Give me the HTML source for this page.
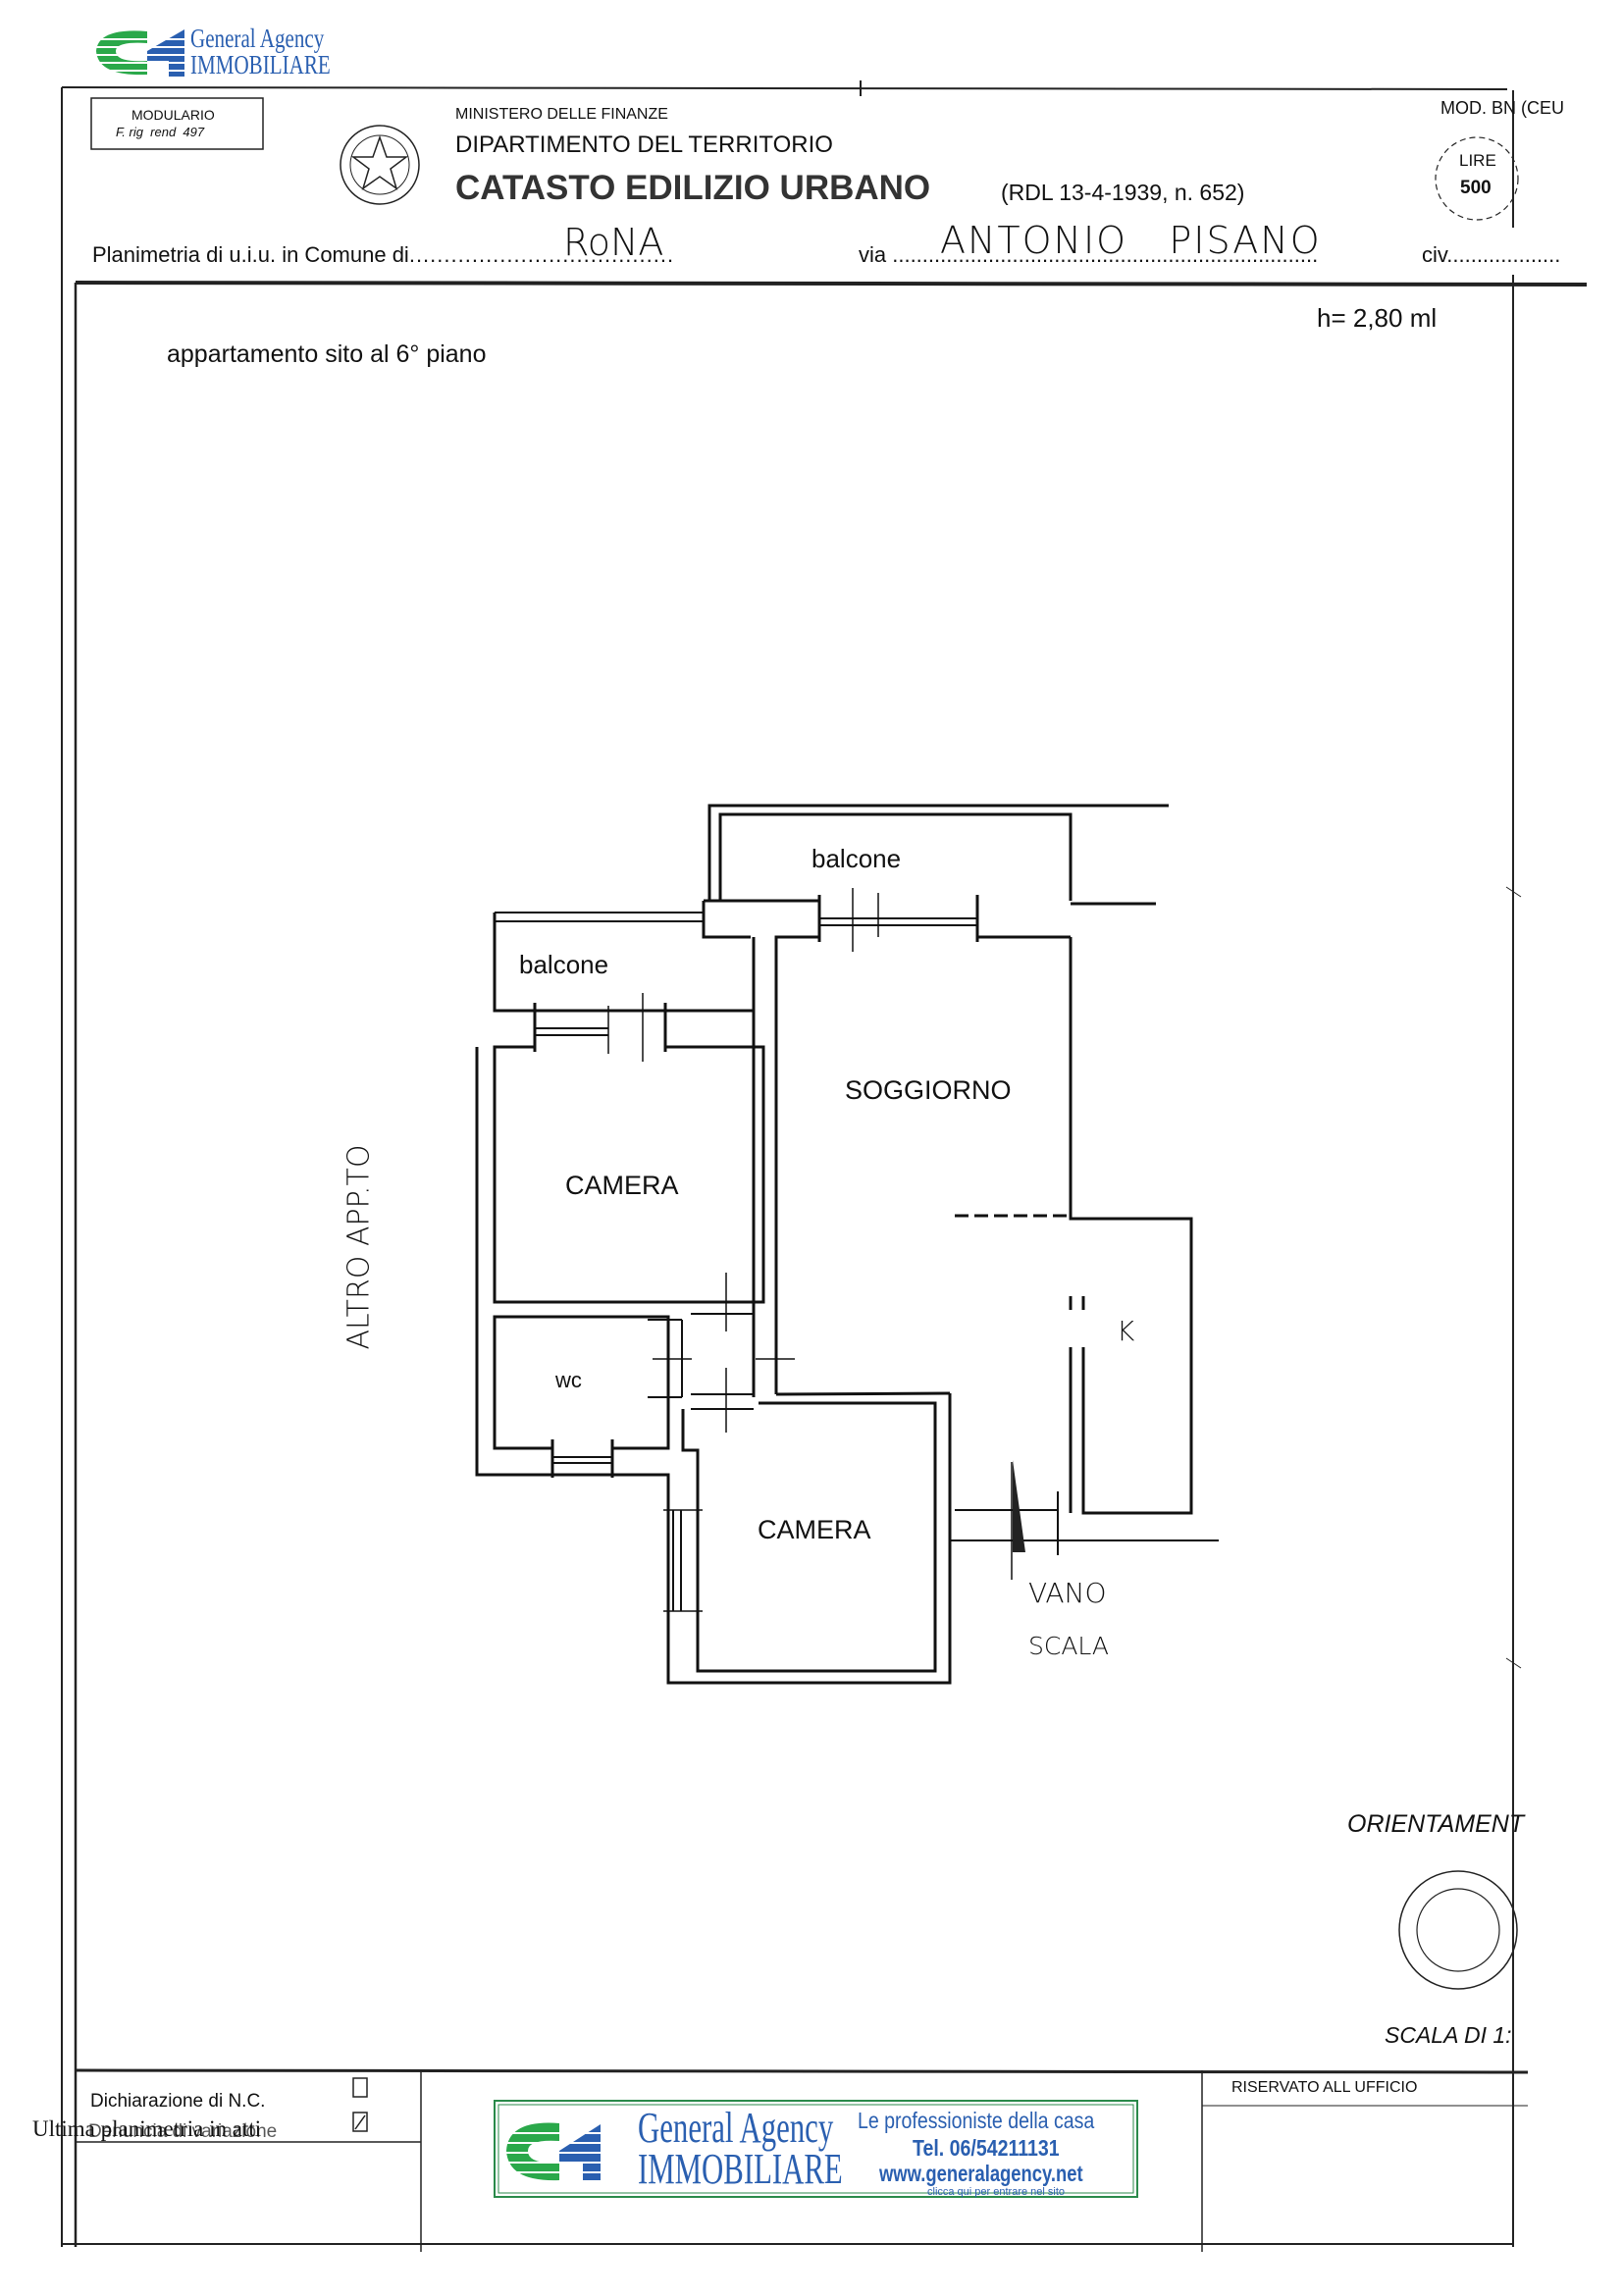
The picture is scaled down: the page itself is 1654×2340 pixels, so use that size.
<!DOCTYPE html>
<html><head><meta charset="utf-8"><style>
html,body{margin:0;padding:0;background:#fff}
body{width:1654px;height:2340px;position:relative;overflow:hidden;font-family:"Liberation Sans",sans-serif;color:#111}
.t{position:absolute;white-space:nowrap;line-height:1}
</style></head><body>
<svg width="1654" height="2340" style="position:absolute;left:0;top:0" xmlns="http://www.w3.org/2000/svg">
<g>
<path d="M150 32 Q100 28 98 52 Q100 78 150 76 L150 62 Q118 64 118 52 Q118 42 150 44 Z" fill="#2aa84a"/>
<path d="M150 52 L188 30 L188 78 L172 78 L172 62 L150 62 Z" fill="#2a5fb0"/>
<g stroke="#fff" stroke-width="2"><line x1="96" y1="40" x2="190" y2="40"/><line x1="96" y1="48" x2="190" y2="48"/><line x1="96" y1="56" x2="190" y2="56"/><line x1="96" y1="64" x2="190" y2="64"/><line x1="96" y1="72" x2="190" y2="72"/></g>
</g>
<g stroke="#222" fill="none" stroke-width="2">
<line x1="63" y1="89" x2="1536" y2="91"/>
<line x1="877" y1="82" x2="877" y2="98"/>
<line x1="63" y1="89" x2="63" y2="2290"/>
<line x1="1542" y1="92" x2="1542" y2="232"/>
<rect x="93" y="100" width="175" height="52" stroke-width="1.5"/>
<circle cx="1505" cy="182" r="42" stroke-width="1.2" stroke-dasharray="6 4"/>
<circle cx="387" cy="168" r="40" stroke-width="1.5"/>
<circle cx="387" cy="168" r="30" stroke-width="1"/>
<polygon points="387,140 394,160 414,160 398,172 404,192 387,180 370,192 376,172 360,160 380,160" stroke-width="1.5"/>
<line x1="77" y1="288" x2="1617" y2="290" stroke-width="4"/>
<line x1="77" y1="288" x2="77" y2="2290" stroke-width="2.5"/>
<line x1="1542" y1="280" x2="1542" y2="2290"/>
<line x1="1535" y1="904" x2="1550" y2="914" stroke-width="1"/>
<line x1="1535" y1="1690" x2="1550" y2="1700" stroke-width="1"/>
<line x1="77" y1="2110" x2="1557" y2="2112" stroke-width="3"/>
<line x1="63" y1="2287" x2="1542" y2="2287" stroke-width="2"/>
<line x1="429" y1="2110" x2="429" y2="2295" stroke-width="1.5"/>
<line x1="1225" y1="2110" x2="1225" y2="2295" stroke-width="1.5"/>
<line x1="77" y1="2183" x2="429" y2="2183" stroke-width="1.5"/>
<line x1="1225" y1="2146" x2="1557" y2="2146" stroke-width="1"/>
<rect x="360" y="2118" width="14" height="19" stroke-width="1.5"/>
<rect x="360" y="2153" width="14" height="19" stroke-width="1.5"/>
<line x1="362" y1="2170" x2="372" y2="2156" stroke-width="1.5"/>
<circle cx="1486" cy="1967" r="60" stroke-width="1.5"/>
<circle cx="1486" cy="1967" r="42" stroke-width="1.2"/>
</g>
<rect x="504" y="2141" width="655" height="98" fill="#fff" stroke="#2a8a4a" stroke-width="2"/>
<rect x="508" y="2145" width="647" height="90" fill="none" stroke="#2a8a4a" stroke-width="1"/>
<g>
<path d="M570 2164 Q518 2160 516 2192 Q518 2224 570 2222 L570 2204 Q538 2206 538 2192 Q538 2180 570 2182 Z" fill="#2aa84a"/>
<path d="M570 2192 L612 2165 L612 2222 L594 2222 L594 2204 L570 2204 Z" fill="#2a5fb0"/>
<g stroke="#fff" stroke-width="2"><line x1="514" y1="2174" x2="614" y2="2174"/><line x1="514" y1="2184" x2="614" y2="2184"/><line x1="514" y1="2194" x2="614" y2="2194"/><line x1="514" y1="2204" x2="614" y2="2204"/><line x1="514" y1="2214" x2="614" y2="2214"/></g>
</g>
<!-- floor plan -->
<g stroke="#111" fill="none" stroke-width="3">
<polyline points="723,918 723,821 1191,821"/>
<polyline points="734,918 734,830 1091,830 1091,918"/>
<line x1="1091" y1="921" x2="1178" y2="921"/>
<line x1="717" y1="918" x2="835" y2="918"/>
<polyline points="717,918 717,955 765,955"/>
<!-- soggiorno -->
<line x1="768" y1="955" x2="768" y2="1424"/>
<polyline points="791,1421 791,955 835,955"/>
<line x1="996" y1="955" x2="1091" y2="955"/>
<line x1="835" y1="936" x2="996" y2="936" stroke-width="2"/>
<line x1="835" y1="943" x2="996" y2="943" stroke-width="2"/>
<line x1="835" y1="912" x2="835" y2="960"/><line x1="996" y1="912" x2="996" y2="960"/>
<line x1="869" y1="905" x2="869" y2="970" stroke-width="1.5"/><line x1="895" y1="910" x2="895" y2="955" stroke-width="1.5"/>
<polyline points="1091,955 1091,1242 1214,1242 1214,1542 1104,1542 1104,1373"/>
<polyline points="1091,1373 1091,1542"/>
<line x1="1091" y1="1321" x2="1091" y2="1335"/>
<line x1="1104" y1="1321" x2="1104" y2="1335"/>
<line x1="973" y1="1239" x2="1091" y2="1239" stroke-dasharray="14 6"/>
<!-- left balcony -->
<line x1="504" y1="930" x2="717" y2="930" stroke-width="2"/>
<line x1="504" y1="939" x2="717" y2="939" stroke-width="2"/>
<polyline points="504,930 504,1030 768,1030"/>
<line x1="545" y1="1048" x2="620" y2="1048" stroke-width="2"/>
<line x1="545" y1="1055" x2="620" y2="1055" stroke-width="2"/>
<line x1="545" y1="1022" x2="545" y2="1072"/><line x1="678" y1="1022" x2="678" y2="1072"/>
<line x1="620" y1="1025" x2="620" y2="1074" stroke-width="1.5"/><line x1="655" y1="1012" x2="655" y2="1082" stroke-width="1.5"/>
<!-- camera 1 -->
<polyline points="486,1067 486,1503 681,1503 681,1715 968,1715 968,1420"/>
<polyline points="545,1067 504,1067 504,1327 778,1327 778,1067 678,1067"/>
<!-- wc -->
<polyline points="563,1476 504,1476 504,1342 681,1342 681,1476 624,1476"/>
<line x1="563" y1="1485" x2="624" y2="1485" stroke-width="2"/>
<line x1="563" y1="1491" x2="624" y2="1491" stroke-width="2"/>
<line x1="563" y1="1467" x2="563" y2="1506"/><line x1="624" y1="1467" x2="624" y2="1506"/>
<!-- corridor -->
<polyline points="695,1345 695,1424" stroke-width="2"/>
<line x1="704" y1="1327" x2="778" y2="1327" stroke-width="2"/>
<line x1="704" y1="1339" x2="768" y2="1339" stroke-width="2"/>
<line x1="704" y1="1421" x2="768" y2="1421" stroke-width="2"/>
<line x1="704" y1="1436" x2="768" y2="1436" stroke-width="2"/>
<line x1="740" y1="1297" x2="740" y2="1357" stroke-width="1.5"/><line x1="740" y1="1394" x2="740" y2="1460" stroke-width="1.5"/>
<line x1="665" y1="1385" x2="705" y2="1385" stroke-width="1.5"/><line x1="770" y1="1385" x2="810" y2="1385" stroke-width="1.5"/>
<line x1="660" y1="1345" x2="695" y2="1345" stroke-width="2"/>
<line x1="660" y1="1424" x2="695" y2="1424" stroke-width="2"/>
<!-- camera 2 -->
<polyline points="791,1421 968,1420"/>
<polyline points="773,1430 953,1430 953,1703 711,1703 711,1478 696,1478 696,1436"/>
<line x1="686" y1="1539" x2="686" y2="1642" stroke-width="2"/>
<line x1="694" y1="1539" x2="694" y2="1642" stroke-width="2"/>
<line x1="676" y1="1539" x2="716" y2="1539" stroke-width="1.5"/><line x1="676" y1="1642" x2="716" y2="1642" stroke-width="1.5"/>
<!-- stairs -->
<line x1="973" y1="1539" x2="1078" y2="1539" stroke-width="2"/>
<line x1="968" y1="1570" x2="1242" y2="1570" stroke-width="2"/>
<line x1="1078" y1="1520" x2="1078" y2="1585" stroke-width="2"/>
<line x1="1031" y1="1490" x2="1031" y2="1610" stroke-width="1.5"/>
</g>
<polygon points="1032,1488 1045,1582 1032,1582" fill="#222"/>
</svg>

<div class="t" style="left:194px;top:26px;font-family:'Liberation Serif',serif;font-size:27px;color:#2a5fb0;transform:scaleX(.78);transform-origin:left">General Agency</div>
<div class="t" style="left:194px;top:53px;font-family:'Liberation Serif',serif;font-size:27px;color:#2a5fb0;transform:scaleX(.78);transform-origin:left">IMMOBILIARE</div>
<div class="t" style="left:134px;top:110px;font-size:14px">MODULARIO</div>
<div class="t" style="left:118px;top:128px;font-size:13px;font-style:italic">F. rig &nbsp;rend &nbsp;497</div>
<div class="t" style="left:464px;top:109px;font-size:16px">MINISTERO DELLE FINANZE</div>
<div class="t" style="left:464px;top:136px;font-size:24px">DIPARTIMENTO DEL TERRITORIO</div>
<div class="t" style="left:464px;top:174px;font-size:35px;font-weight:bold;color:#333">CATASTO EDILIZIO URBANO</div>
<div class="t" style="left:1020px;top:185px;font-size:23px">(RDL 13-4-1939, n. 652)</div>
<div class="t" style="left:1468px;top:101px;font-size:18px">MOD. BN (CEU</div>
<div class="t" style="left:1487px;top:155px;font-size:17px">LIRE</div>
<div class="t" style="left:1488px;top:182px;font-size:19px;font-weight:bold">500</div>
<div class="t" style="left:94px;top:249px;font-size:22px">Planimetria di u.i.u. in Comune di<span style="letter-spacing:1px">......................................</span></div>
<div class="t" style="left:574px;top:228px;font-size:38px;font-family:'DejaVu Sans',sans-serif;font-weight:200">RoNA</div>
<div class="t" style="left:875px;top:249px;font-size:22px">via .......................................................................</div>
<div class="t" style="left:958px;top:226px;font-size:38px;font-family:'DejaVu Sans',sans-serif;font-weight:200;letter-spacing:2px">ANTONIO &nbsp; PISANO</div>
<div class="t" style="left:1449px;top:249px;font-size:22px">civ...................</div>
<div class="t" style="left:1342px;top:311px;font-size:26px">h= 2,80 ml</div>
<div class="t" style="left:170px;top:349px;font-size:25px">appartamento sito al 6° piano</div>
<div class="t" style="left:827px;top:862px;font-size:26px">balcone</div>
<div class="t" style="left:529px;top:970px;font-size:26px">balcone</div>
<div class="t" style="left:861px;top:1098px;font-size:27px">SOGGIORNO</div>
<div class="t" style="left:576px;top:1195px;font-size:27px">CAMERA</div>
<div class="t" style="left:566px;top:1396px;font-size:22px">wc</div>
<div class="t" style="left:772px;top:1546px;font-size:27px">CAMERA</div>
<div class="t" style="left:1138px;top:1343px;font-size:28px;font-family:'DejaVu Sans',sans-serif;font-weight:200">K</div>
<div class="t" style="left:1048px;top:1610px;font-size:28px;font-family:'DejaVu Sans',sans-serif;font-weight:200">VANO</div>
<div class="t" style="left:1048px;top:1665px;font-size:25px;font-family:'DejaVu Sans',sans-serif;font-weight:200">SCALA</div>
<div class="t" style="left:262px;top:1256px;font-size:30px;font-family:'DejaVu Sans',sans-serif;font-weight:200;transform:rotate(-90deg);transform-origin:center">ALTRO APP.TO</div>
<div class="t" style="left:1373px;top:1847px;font-size:25px;font-style:italic">ORIENTAMENT</div>
<div class="t" style="left:1411px;top:2063px;font-size:23px;font-style:italic">SCALA DI 1:</div>
<div class="t" style="left:92px;top:2132px;font-size:19px">Dichiarazione di N.C.</div>
<div class="t" style="left:33px;top:2158px;font-size:23px;font-family:'Liberation Serif',serif">Ultima planimetria in atti</div>
<div class="t" style="left:90px;top:2163px;font-size:19px;opacity:.7">Denuncia di variazione</div>
<div class="t" style="left:1255px;top:2120px;font-size:16px">RISERVATO ALL UFFICIO</div>
<div class="t" style="left:650px;top:2147px;font-family:'Liberation Serif',serif;font-size:44px;color:#2a5fb0;transform:scaleX(.7);transform-origin:left">General Agency</div>
<div class="t" style="left:650px;top:2189px;font-family:'Liberation Serif',serif;font-size:44px;color:#2a5fb0;transform:scaleX(.7);transform-origin:left">IMMOBILIARE</div>
<div class="t" style="left:874px;top:2150px;font-size:23px;color:#2a5fb0;transform:scaleX(.85);transform-origin:left">Le professioniste della casa</div>
<div class="t" style="left:930px;top:2178px;font-size:23px;font-weight:bold;color:#2a5fb0;transform:scaleX(.85);transform-origin:left">Tel. 06/54211131</div>
<div class="t" style="left:896px;top:2204px;font-size:23px;font-weight:bold;color:#2a5fb0;transform:scaleX(.8);transform-origin:left">www.generalagency.net</div>
<div class="t" style="left:945px;top:2229px;font-size:11px;color:#2a5fb0">clicca qui per entrare nel sito</div>
</body></html>
